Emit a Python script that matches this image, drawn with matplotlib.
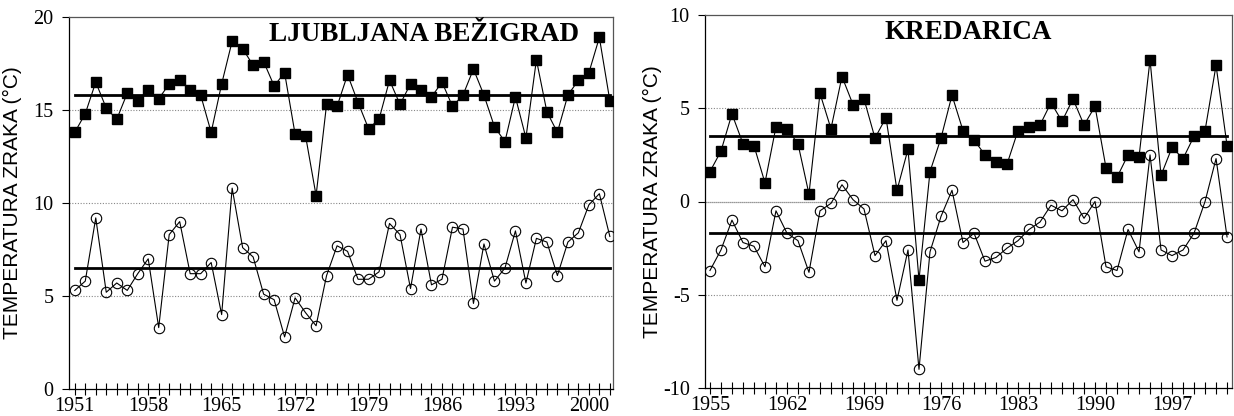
import numpy as np
import matplotlib
matplotlib.use('Agg')
import matplotlib.pyplot as plt
from matplotlib.ticker import MultipleLocator

# Ljubljana Bezigrad, 1951-2002
lj_years = list(range(1951, 2003))
lj_max = [13.8, 14.8, 16.5, 15.1, 14.5, 15.9, 15.5, 16.1, 15.6, 16.4,
          16.6, 16.1, 15.8, 13.8, 16.4, 18.7, 18.3, 17.4, 17.6, 16.3,
          17.0, 13.7, 13.6, 10.4, 15.3, 15.2, 16.9, 15.4, 14.0, 14.5,
          16.6, 15.3, 16.4, 16.1, 15.7, 16.5, 15.2, 15.8, 17.2, 15.8,
          14.1, 13.3, 15.7, 13.5, 17.7, 14.9, 13.8, 15.8, 16.6, 17.0,
          18.9, 15.5]
lj_min = [5.3, 5.8, 9.2, 5.2, 5.7, 5.3, 6.2, 7.0, 3.3, 8.3,
          9.0, 6.2, 6.2, 6.8, 4.0, 10.8, 7.6, 7.1, 5.1, 4.8,
          2.8, 4.9, 4.1, 3.4, 6.1, 7.7, 7.4, 5.9, 5.9, 6.3,
          8.9, 8.3, 5.4, 8.6, 5.6, 5.9, 8.7, 8.6, 4.6, 7.8,
          5.8, 6.5, 8.5, 5.7, 8.1, 7.9, 6.1, 7.9, 8.4, 9.9,
          10.5, 8.2]
lj_means = [15.8, 6.5]

# Kredarica, 1955-2002
kr_years = list(range(1955, 2003))
kr_max = [1.6, 2.7, 4.7, 3.1, 3.0, 1.0, 4.0, 3.9, 3.1, 0.4,
          5.8, 3.9, 6.7, 5.2, 5.5, 3.4, 4.5, 0.6, 2.8, -4.2,
          1.6, 3.4, 5.7, 3.8, 3.3, 2.5, 2.1, 2.0, 3.8, 4.0,
          4.1, 5.3, 4.3, 5.5, 4.1, 5.1, 1.8, 1.3, 2.5, 2.4,
          7.6, 1.4, 2.9, 2.3, 3.5, 3.8, 7.3, 3.0]
kr_min = [-3.7, -2.6, -1.0, -2.2, -2.4, -3.5, -0.5, -1.7, -2.1, -3.8,
          -0.5, -0.1, 0.9, 0.1, -0.4, -2.9, -2.1, -5.3, -2.6, -9.0,
          -2.7, -0.8, 0.6, -2.2, -1.7, -3.2, -3.0, -2.5, -2.1, -1.5,
          -1.1, -0.2, -0.5, 0.1, -0.9, 0.0, -3.5, -3.7, -1.5, -2.7,
          2.5, -2.6, -2.9, -2.6, -1.7, 0.0, 2.3, -1.9]
kr_means = [3.5, -1.7]

plt.rcParams['font.family'] = ['Liberation Serif', 'DejaVu Serif']
plt.rcParams['axes.unicode_minus'] = False


def draw_panel(ax, years, upper, lower, means, title, ylim, yticks, xticks, xlim, title_x, title_ha):
    # grid lines at the y ticks
    for t in yticks[1:-1]:
        if t == 0:
            ax.axhline(t, color='#777777', lw=0.9, ls=(0, (1, 0.6)), zorder=0)
        else:
            ax.axhline(t, color='#888888', lw=0.8, ls=(0, (1, 1.5)), zorder=0)

    # mean lines
    for m in means:
        ax.plot([years[0], years[-1]], [m, m], color='black', lw=2.0, zorder=2)

    ax.plot(years, upper, color='black', lw=0.8, marker='s', ms=7.5,
            mfc='black', mec='black', zorder=3)
    ax.plot(years, lower, color='black', lw=0.8, marker='o', ms=7.5,
            mfc='none', mec='black', mew=0.8, zorder=3)

    ax.set_xlim(*xlim)
    ax.set_ylim(*ylim)
    ax.set_yticks(yticks)
    ax.set_xticks(xticks)
    ax.xaxis.set_minor_locator(MultipleLocator(1))
    ax.tick_params(axis='x', which='both', direction='inout', length=9, width=0.8,
                   labelsize=14.5, pad=1)
    ax.tick_params(axis='y', direction='out', length=5, width=0.8, labelsize=14.5, pad=6)
    ax.tick_params(top=False, right=False)
    for s in ax.spines.values():
        s.set_linewidth(0.9)
    ax.spines['top'].set_color('#555555')
    ax.spines['right'].set_color('#555555')

    ax.set_ylabel('TEMPERATURA ZRAKA (°C)', family=['Liberation Sans', 'DejaVu Sans'],
                  fontsize=15)
    ax.text(title_x, 0.952, title, transform=ax.transAxes, ha=title_ha, va='center',
            fontsize=19.5, fontweight='bold')


fig = plt.figure(figsize=(12.34, 4.16), dpi=100)

ax1 = fig.add_axes([69 / 1234, 27 / 416, 544 / 1234, 372 / 416])
draw_panel(ax1, lj_years, lj_max, lj_min, lj_means, 'LJUBLJANA BEŽIGRAD',
           (0, 20), [0, 5, 10, 15, 20], list(range(1951, 2003, 7)),
           (1950.45, 2002.3), 0.937, 'right')
ax1.yaxis.set_label_coords(-47 / 544, 0.5)

ax2 = fig.add_axes([705 / 1234, 28 / 416, 527 / 1234, 373 / 416])
draw_panel(ax2, kr_years, kr_max, kr_min, kr_means, 'KREDARICA',
           (-10, 10), [-10, -5, 0, 5, 10], list(range(1955, 2003, 7)),
           (1954.55, 2002.45), 0.5, 'center')
ax2.yaxis.set_label_coords(-43 / 527, 0.5)

fig.savefig('out.png', dpi=100)
